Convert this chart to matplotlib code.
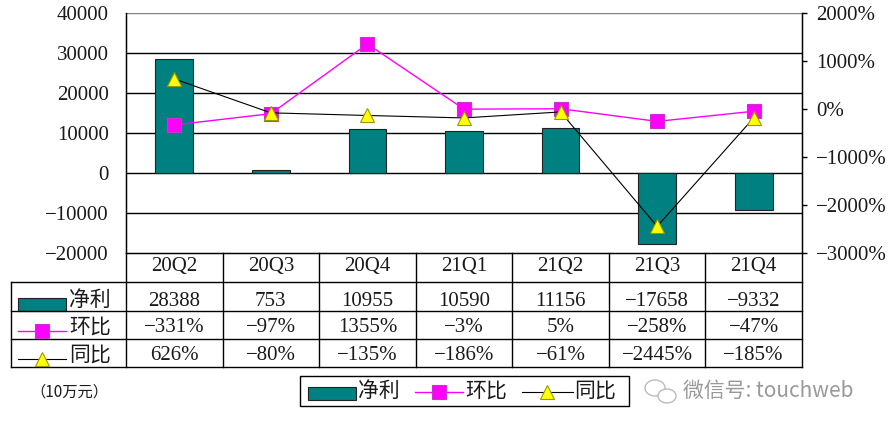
import matplotlib
matplotlib.use("Agg")
import matplotlib.pyplot as plt
from matplotlib.patches import Rectangle, Ellipse

categories = ['20Q2', '20Q3', '20Q4', '21Q1', '21Q2', '21Q3', '21Q4']
net_profit = [28388, 753, 10955, 10590, 11156, -17658, -9332]
qoq_pct = [-331, -97, 1355, -3, 5, -258, -47]
yoy_pct = [626, -80, -135, -186, -61, -2445, -185]
left_ticks = [40000, 30000, 20000, 10000, 0, -10000, -20000]
right_ticks = [2000, 1000, 0, -1000, -2000, -3000]
row_labels = ['净利', '环比', '同比']
unit_label = '（10万元）'
watermark = '微信号: touchweb'

MINUS = '\u2212'
def fmt(v, pct=False):
    s = f"{abs(v)}" + ('%' if pct else '')
    return (MINUS + s) if v < 0 else s

SERIF = ['Liberation Serif', 'Noto Sans CJK SC', 'DejaVu Sans']
CJK = ['Noto Sans CJK SC', 'DejaVu Sans']
TEAL = '#008080'
MAG = '#FF00FF'
YEL = '#FFFF00'
TXT = '#1a1a1a'
FS = 15

W, H = 890, 428
fig = plt.figure(figsize=(W / 100, H / 100), dpi=100)
fig.patch.set_facecolor('white')

L, R, T, B = 126, 802, 13, 253
n = len(categories)
cw = (R - L) / n

ax = fig.add_axes([L / W, 1 - B / H, (R - L) / W, (B - T) / H])
x = list(range(n))
ax.set_xlim(-0.5, n - 0.5)
ax.set_ylim(left_ticks[-1], left_ticks[0])
for v in left_ticks[1:-1]:
    ax.axhline(v, color='black', lw=1.0, zorder=1)
ax.axhline(left_ticks[0], color='#808080', lw=1.0, zorder=1)
ax.bar(x, net_profit, width=0.39, color=TEAL, edgecolor='#222222', linewidth=0.8, zorder=3)
ax.set_xticks([])
ax.set_yticks(left_ticks)
ax.set_yticklabels([fmt(v) for v in left_ticks], family=SERIF, fontsize=FS, color=TXT)
ax.tick_params(axis='y', length=0, pad=12.5)
for s in ['left', 'right', 'bottom']:
    ax.spines[s].set_color('black')
    ax.spines[s].set_linewidth(1.0)
ax.spines['top'].set_visible(False)

ax2 = ax.twinx()
ax2.set_ylim(right_ticks[-1], right_ticks[0])
ax2.plot(x, qoq_pct, color=MAG, lw=1.0, marker='s', ms=9.5, mfc=MAG, mec='#CC33CC', mew=0.8, zorder=4)
ax2.plot(x, yoy_pct, color='black', lw=0.8, marker='^', ms=10, mfc=YEL, mec='#999900', mew=0.8, zorder=5)
ax2.set_yticks(right_ticks)
ax2.set_yticklabels([fmt(v, True) for v in right_ticks], family=SERIF, fontsize=FS, color=TXT)
ax2.tick_params(axis='y', length=3.8, width=1, direction='out', pad=6.5, color='black')
ax2.spines['top'].set_visible(False)
for s in ['left', 'right', 'bottom']:
    ax2.spines[s].set_color('black')

# overlay in pixel coords for the data table and legend
ov = fig.add_axes([0, 0, 1, 1], zorder=10)
ov.set_xlim(0, W)
ov.set_ylim(H, 0)
ov.axis('off')

TL = 11
rows_y = [253, 282, 311, 339, 367]
for y in rows_y[1:]:
    ov.plot([TL, R], [y, y], color='black', lw=1.0)
ov.plot([TL, TL], [rows_y[1], rows_y[-1]], color='black', lw=1.0)
for i in range(n + 1):
    xx = L + i * cw
    ov.plot([xx, xx], [rows_y[0], rows_y[-1]], color='black', lw=1.0)

for i, c in enumerate(categories):
    cx = L + (i + 0.5) * cw
    ov.text(cx, 267, c, ha='center', va='center', family=SERIF, fontsize=FS, color=TXT)
    ov.text(cx, 301, fmt(net_profit[i]), ha='center', va='center', family=SERIF, fontsize=FS, color=TXT)
    ov.text(cx, 328, fmt(qoq_pct[i], True), ha='center', va='center', family=SERIF, fontsize=FS, color=TXT)
    ov.text(cx, 356, fmt(yoy_pct[i], True), ha='center', va='center', family=SERIF, fontsize=FS, color=TXT)

# row legend symbols
ov.add_patch(Rectangle((18, 298), 48, 13, facecolor=TEAL, edgecolor='#222222', lw=0.8))
ov.plot([18, 66], [331, 331], color=MAG, lw=1.0)
ov.plot([42], [331], marker='s', ms=9.5, mfc=MAG, mec='#CC33CC', mew=0.8)
ov.plot([18, 66], [359, 359], color='black', lw=0.8)
ov.plot([42], [359], marker='^', ms=10, mfc=YEL, mec='#999900', mew=0.8)
for lbl, y in zip(row_labels, [300, 327, 355]):
    ov.text(69, y, lbl, ha='left', va='center', family=CJK, fontsize=15, color=TXT)

# unit label
ov.text(30, 392, unit_label, ha='left', va='center', family=CJK, fontsize=11, color=TXT)

# legend box
ov.add_patch(Rectangle((300, 376), 329, 30, facecolor='white', edgecolor='black', lw=1.0))
ov.add_patch(Rectangle((308, 387), 48, 13, facecolor=TEAL, edgecolor='#222222', lw=0.8))
ov.text(358, 391, row_labels[0], ha='left', va='center', family=CJK, fontsize=15, color=TXT)
ov.plot([415, 463], [392, 392], color=MAG, lw=1.0)
ov.plot([439], [392], marker='s', ms=9.5, mfc=MAG, mec='#CC33CC', mew=0.8)
ov.text(465, 391, row_labels[1], ha='left', va='center', family=CJK, fontsize=15, color=TXT)
ov.plot([522, 573], [392, 392], color='black', lw=0.8)
ov.plot([547], [392], marker='^', ms=10, mfc=YEL, mec='#999900', mew=0.8)
ov.text(574, 391, row_labels[2], ha='left', va='center', family=CJK, fontsize=15, color=TXT)

# watermark
ov.add_patch(Ellipse((655, 388), 20, 16, facecolor='none', edgecolor='#bbbbbb', lw=1.0))
ov.add_patch(Ellipse((667, 396), 18, 14, facecolor='white', edgecolor='#bbbbbb', lw=1.0))
ov.text(683, 391, watermark, ha='left', va='center', family=CJK, fontsize=15, color='#999999')

fig.savefig('out.png', dpi=100)
